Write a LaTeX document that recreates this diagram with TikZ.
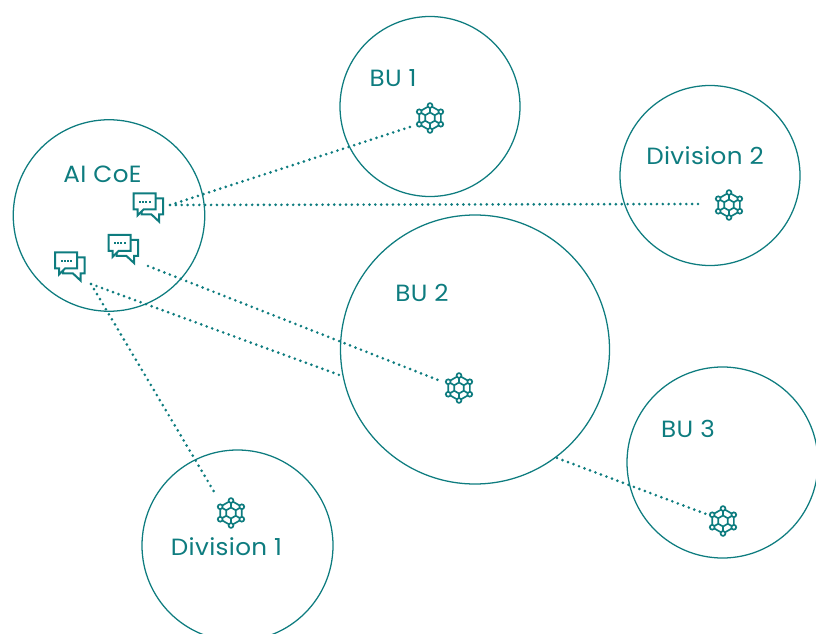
\documentclass[tikz,border=0pt]{standalone}
\usepackage{fontspec}
\setmainfont[FakeStretch=1.05,LetterSpace=1.5]{Poppins}
\definecolor{teal1}{HTML}{0E7C7F}
\tikzset{
  x=0.75pt,y=-0.75pt,
  unit/.style={draw=teal1,line width=0.95pt,circle,inner sep=0pt,minimum size=#1*0.75pt},
  lbl/.style={text=teal1,font=\fontsize{17.6pt}{20pt}\selectfont,inner sep=0pt,anchor=center},
  link/.style={draw=teal1,line width=2.2pt,line cap=round,dash pattern=on 0pt off 4.4pt},
  chat/.pic={
    \draw[teal1,line width=1.5pt,line join=miter]
      (0,0) -- (22,0) -- (22,16) -- (10,16) -- (4,22) -- (4,16) -- (0,16) -- cycle;
    \draw[teal1,line width=1.5pt,line join=miter]
      (22,5) -- (29.5,5) -- (29.5,21) -- (25.5,21) -- (25.5,28) -- (18,21) -- (8,21) -- (8,18);
    \foreach \i in {0,1,2,3} \fill[teal1] (5.5+\i*3.2,7.5) rectangle ++(2,2);
  },
  hub/.pic={
    \draw[teal1,line width=1.25pt,line join=round]
      (90:12.5) -- (30:12.5) -- (-30:12.5) -- (-90:12.5) -- (-150:12.5) -- (150:12.5) -- cycle
      (30:5.5) -- (-30:5.5) -- (-90:5.5) -- (-150:5.5) -- (150:5.5) -- (90:5.5) -- cycle
      (90:12.5)--(90:5.5) (30:12.5)--(30:5.5) (-30:12.5)--(-30:5.5) (-90:12.5)--(-90:5.5) (-150:12.5)--(-150:5.5) (150:12.5)--(150:5.5);
    \foreach \a in {90,30,-30,-90,-150,150}
      \draw[teal1,line width=1.25pt,fill=white] (\a:12.5) circle[radius=2.4];
  }
}
\begin{document}
\begin{tikzpicture}
\useasboundingbox (0,0) rectangle (816,634);
\clip (0,0) rectangle (816,634);
\node[unit=191.5] (coe) at (109,215.5) {};
\node[unit=180] (bu1) at (430,106.5) {};
\node[unit=180] (div2) at (710,175.5) {};
\node[unit=269] (bu2) at (475,349.5) {};
\node[unit=191] (bu3) at (722.5,462.5) {};
\node[unit=191] (div1) at (237.5,545.5) {};
\node[lbl] (tcoe) at (102.5,174) {AI CoE};
\node[lbl] (tbu1) at (393,78) {BU 1};
\node[lbl] (tdiv2) at (705,156) {Division 2};
\node[lbl] (tbu2) at (422,293) {BU 2};
\node[lbl] (tbu3) at (688,429) {BU 3};
\node[lbl] (tdiv1) at (226.5,547) {Division 1};
\pic at (430,118) {hub};
\pic at (729,205) {hub};
\pic at (459,388) {hub};
\pic at (723,521) {hub};
\pic at (231,513) {hub};
\pic at (133.5,193.5) {chat};
\pic at (108.5,235) {chat};
\pic at (55,252.5) {chat};
\coordinate (c1) at (170,205);
\coordinate (c2) at (148,266);
\coordinate (c3) at (91,284);
\coordinate (h1) at (410,127);
\coordinate (h2) at (702,204);
\coordinate (h3) at (438,380);
\coordinate (h4) at (216,495);
\coordinate (h5) at (706,514);
\coordinate (b2w) at (342,376);
\coordinate (b2s) at (557,458);
\draw[link] (c1) -- (h1);
\draw[link] (c1) -- (h2);
\draw[link] (c2) -- (h3);
\draw[link] (c3) -- (b2w);
\draw[link] (c3) -- (h4);
\draw[link] (b2s) -- (h5);
\end{tikzpicture}
\end{document}
